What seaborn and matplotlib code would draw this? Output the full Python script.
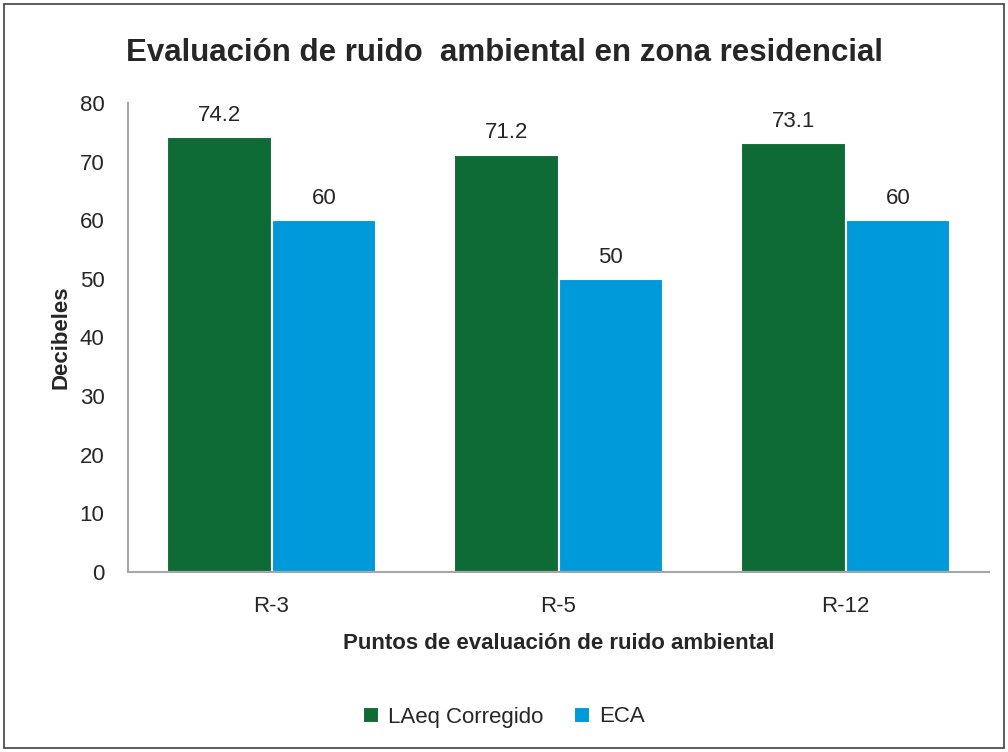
import pandas as pd
import matplotlib.pyplot as plt
import seaborn as sns
from matplotlib.patches import Rectangle

# Data
puntos = ['R-3', 'R-5', 'R-12']
laeq_corregido = [74.2, 71.2, 73.1]
eca = [60, 50, 60]
series = ['LAeq Corregido', 'ECA']
colores = ['#0F6B36', '#009ADB']

data = pd.DataFrame({
    'Punto': puntos * 2,
    'Serie': [series[0]] * 3 + [series[1]] * 3,
    'Decibeles': laeq_corregido + eca,
})

sns.set_style('white')
plt.rcParams['font.family'] = ['Liberation Sans Narrow', 'Liberation Sans', 'DejaVu Sans']

fig = plt.figure(figsize=(10.08, 7.52), dpi=100)
ax = fig.add_axes([128 / 1008, 1 - 572 / 752, 861 / 1008, 469 / 752])

sns.barplot(data=data, x='Punto', y='Decibeles', hue='Serie', palette=colores,
            width=0.73, edgecolor='white', linewidth=1.5, ax=ax, saturation=1)

for cont in ax.containers:
    ax.bar_label(cont, labels=[f'{v:g}' for v in cont.datavalues], padding=8,
                 fontsize=16, color='#262626')

ax.set_ylim(0, 80)
ax.set_yticks(range(0, 81, 10))
ax.tick_params(axis='both', labelsize=16, colors='#262626', length=0)
ax.tick_params(axis='y', pad=17)
ax.tick_params(axis='x', pad=17)
for side in ['top', 'right']:
    ax.spines[side].set_visible(False)
for side in ['left', 'bottom']:
    ax.spines[side].set_color('#A6A6A6')
    ax.spines[side].set_linewidth(1.5)

ax.set_ylabel('Decibeles', fontsize=16, fontweight='bold', color='#262626', labelpad=6)
ax.set_xlabel('Puntos de evaluación de ruido ambiental', fontsize=16, fontweight='bold',
              color='#262626', labelpad=12)

fig.suptitle('Evaluación de ruido  ambiental en zona residencial', x=0.5, y=1 - 53 / 752,
             va='center', fontsize=22.5, fontweight='bold', color='#262626')

ax.legend(loc='center', ncol=2, frameon=False, fontsize=16, handlelength=0.7,
          handleheight=0.7, columnspacing=1.4, handletextpad=0.4, title=None)
leg = ax.get_legend()
leg.set_bbox_to_anchor((0.5, 1 - 717 / 752), transform=fig.transFigure)
for t in leg.get_texts():
    t.set_color('#262626')

fig.patches.append(Rectangle((4 / 1008, 4 / 752), 1 - 8 / 1008, 1 - 8 / 752,
                             transform=fig.transFigure, fill=False,
                             edgecolor='#3F3F3F', linewidth=1.2))

plt.savefig('out.png', dpi=100)
